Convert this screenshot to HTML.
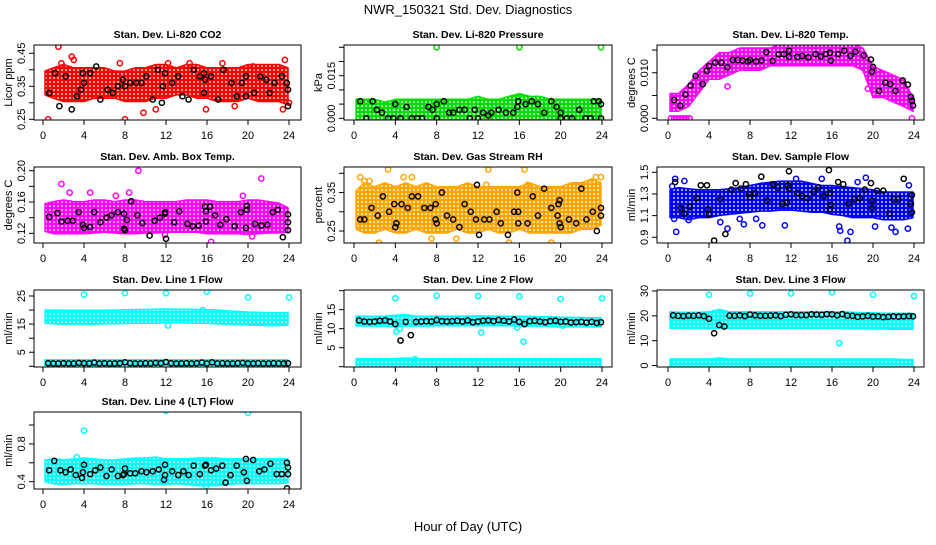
<!DOCTYPE html>
<html><head><meta charset="utf-8"><style>
body{margin:0;background:#fff}
svg text{font-family:"Liberation Sans",sans-serif}
</style></head><body>
<svg id="c" width="936" height="540" xmlns="http://www.w3.org/2000/svg">
<defs></defs>
<text x="468" y="14" font-size="13" text-anchor="middle">NWR_150321  Std. Dev. Diagnostics</text>
<text x="468" y="531" font-size="13" text-anchor="middle">Hour of Day (UTC)</text>
</svg>
<script>
const hourTicks=[0,4,8,12,16,20,24];
const bandHours=[0.2,1,2,3,4,5,6,7,8,9,10,11,12,13,14,15,16,17,18,19,20,21,22,23,23.9];
const rowHours=[0.5,1,1.5,2,2.5,3,3.5,4,4.5,5,5.5,6,6.5,7,7.5,8,8.5,9,9.5,10,10.5,11,11.5,12,12.5,13,13.5,14,14.5,15,15.5,16,16.5,17,17.5,18,18.5,19,19.5,20,20.5,21,21.5,22,22.5,23,23.5,23.9];

// Panel 1 CO2
const co2Lo=[0.33,0.32,0.31,0.31,0.31,0.32,0.32,0.32,0.31,0.31,0.31,0.32,0.32,0.33,0.33,0.32,0.32,0.31,0.31,0.31,0.32,0.31,0.31,0.31,0.30];
const co2Hi=[0.39,0.40,0.41,0.40,0.40,0.40,0.40,0.39,0.39,0.40,0.40,0.41,0.41,0.40,0.41,0.41,0.40,0.40,0.40,0.40,0.41,0.41,0.41,0.41,0.40];
const co2OutX=[1.5,0.5,1.8,2.8,3,7.5,8,9.8,11,12.2,14.3,15.9,17.5,18.7,23.6,23.4,24,20.5];
const co2OutY=[0.47,0.25,0.42,0.44,0.43,0.42,0.25,0.27,0.28,0.42,0.42,0.28,0.42,0.29,0.43,0.28,0.30,0.41];
const co2BlkX=[0.6,1.2,1.6,2.2,2.8,3.3,3.7,3.9,4,4.6,5.2,5.6,6.3,6.8,7.3,7.8,8,8.5,9.1,9.6,10.1,10.7,11.2,11.6,11.7,11.9,12.6,13.2,13.6,14.2,14.7,15.3,15.7,15.8,15.7,16.4,17.1,17.6,18.4,18.9,19.4,19.8,19.8,20.6,21.2,21.8,22.1,22.6,23.3,23.8,23.9,23.9];
const co2BlkY=[0.33,0.39,0.29,0.38,0.28,0.32,0.34,0.39,0.36,0.39,0.41,0.31,0.34,0.33,0.35,0.37,0.35,0.36,0.36,0.36,0.38,0.31,0.40,0.30,0.35,0.39,0.36,0.38,0.32,0.31,0.40,0.38,0.39,0.37,0.33,0.38,0.31,0.40,0.36,0.32,0.36,0.38,0.32,0.33,0.38,0.37,0.33,0.36,0.38,0.36,0.34,0.29];

// Panel 2 Pressure
const presLo=[0,0,0,0,0,0,0,0,0,0,0,0,0,0,0,0,0,0,0,0,0,0,0,0,0];
const presHi=[0.006,0.006,0.006,0.005,0.006,0.006,0.006,0.006,0.006,0.006,0.006,0.006,0.007,0.006,0.006,0.007,0.008,0.007,0.007,0.006,0.006,0.006,0.006,0.006,0.006];
const presOutX=[8,16,23.9];
const presOutY=[0.025,0.025,0.025];
const presBlkX=[0.6,1.2,1.8,2.2,2.7,3.3,3.8,4,4.5,5.1,5.6,6.1,6.6,7.2,7.6,8,8,8.7,9.2,9.6,10.2,10.7,11.2,11.7,12,12.5,13,13.3,14,14.7,15.4,15.8,15.9,16.6,17.2,17.8,18.4,19.1,19.6,20,20,20.6,21.1,21.8,22.4,22.9,23.2,23.7,23.9,23.9];
const presBlkY=[0.006,0,0.006,0.003,0.002,0,0,0.005,0,0.004,0,0,0,0.004,0.003,0,0.005,0.006,0.002,0.002,0.003,0.003,0,0.003,0,0.002,0.001,0.002,0.003,0.002,0.002,0.004,0.006,0.005,0.006,0.005,0.002,0.006,0.004,0.002,0,0,0,0.003,0,0,0.006,0.006,0.005,0];

// Panel 3 Li-820 Temp
const tmpLo=[0.002,0.002,0.003,0.006,0.009,0.009,0.010,0.011,0.011,0.011,0.012,0.012,0.012,0.012,0.012,0.012,0.012,0.012,0.012,0.011,0.005,0.005,0.004,0.003,0.002];
const tmpHi=[0.005,0.005,0.007,0.010,0.012,0.014,0.014,0.015,0.015,0.015,0.015,0.016,0.016,0.016,0.016,0.016,0.016,0.016,0.016,0.015,0.011,0.010,0.009,0.008,0.004];
const tmpOutX=[0.3,0.6,0.9,1.2,1.5,1.8,2.1,23.8,19.5,5.8];
const tmpOutY=[0,0,0,0,0,0,0,0,0.0065,0.007];
const tmpBlkX=[0.6,1.2,1.7,2.2,2.7,3.4,3.8,4,4.6,5.2,5.8,6.3,6.8,7.3,7.8,8,8.6,9.1,9.6,10.2,10.8,11.3,11.8,11.8,12.6,13.1,13.7,14.4,14.9,15.4,15.8,15.9,16.6,17.2,17.8,18.3,19.1,19.8,19.9,20,20.6,21.2,21.7,22.2,22.9,23.4,23.7,23.8,23.9];
const tmpBlkY=[0.004,0.0028,0.0052,0.0072,0.0093,0.0075,0.0104,0.0115,0.0122,0.0122,0.0112,0.0128,0.0128,0.0127,0.0125,0.0128,0.0125,0.0127,0.0145,0.0126,0.014,0.0141,0.0148,0.0135,0.0135,0.0137,0.0134,0.0141,0.0136,0.0141,0.0144,0.0127,0.0141,0.0148,0.0137,0.0146,0.0138,0.0129,0.0102,0.0113,0.006,0.0078,0.0075,0.006,0.0083,0.0074,0.0047,0.0039,0.0028];

// Panel 4 Amb box temp
const ambLo=[0.125,0.122,0.122,0.122,0.122,0.123,0.124,0.123,0.122,0.122,0.123,0.123,0.124,0.124,0.124,0.124,0.122,0.122,0.122,0.122,0.121,0.122,0.123,0.123,0.124];
const ambHi=[0.155,0.158,0.160,0.158,0.158,0.160,0.160,0.158,0.160,0.160,0.158,0.158,0.158,0.158,0.160,0.160,0.160,0.158,0.158,0.158,0.160,0.160,0.158,0.156,0.150];
const ambOutX=[1.8,2.6,4.6,9.3,21.3,7.1,8.4,16.4,20.4,11.9,19.5];
const ambOutY=[0.183,0.172,0.172,0.2,0.19,0.168,0.172,0.109,0.116,0.118,0.168];
const ambBlkX=[0.6,1.4,1.8,2.4,2.9,3.5,3.9,4,4.6,5,5.6,6.2,6.7,7.3,7.9,7.9,8,8.2,8.6,9.2,9.7,10.4,10.9,11.4,11.9,11.9,12,12.8,13.3,14.1,14.6,15.2,15.8,15.9,15.9,16.3,16.8,17.3,17.9,18.7,19.3,19.8,19.9,19.9,20.7,21.3,21.9,22.4,22.9,23.4,23.9,23.9,23.9];
const ambBlkY=[0.141,0.146,0.135,0.136,0.136,0.147,0.131,0.127,0.128,0.147,0.134,0.14,0.143,0.147,0.145,0.126,0.124,0.137,0.161,0.143,0.133,0.117,0.136,0.14,0.145,0.147,0.113,0.134,0.148,0.132,0.129,0.13,0.154,0.148,0.135,0.154,0.143,0.131,0.138,0.129,0.147,0.127,0.155,0.15,0.132,0.13,0.131,0.147,0.15,0.115,0.144,0.134,0.124];

// Panel 5 Gas stream RH
const rhLo=[0.26,0.25,0.25,0.26,0.25,0.25,0.26,0.25,0.25,0.25,0.26,0.25,0.25,0.26,0.25,0.25,0.26,0.25,0.25,0.25,0.25,0.25,0.26,0.26,0.27];
const rhHi=[0.35,0.37,0.36,0.37,0.36,0.37,0.36,0.37,0.36,0.36,0.36,0.37,0.36,0.36,0.36,0.36,0.36,0.37,0.36,0.36,0.36,0.37,0.37,0.38,0.37];
const rhOutX=[0.6,1,1.5,3.3,4.8,5.6,2.4,9.9,13,15,16.5,16.8,19.1,21,23.4,23.9,12.8,7.5];
const rhOutY=[0.39,0.38,0.38,0.41,0.39,0.39,0.22,0.23,0.41,0.22,0.41,0.37,0.22,0.21,0.39,0.39,0.37,0.23];
const rhBlkX=[0.6,1,1.7,2.3,2.8,3.4,3.9,4,4.1,4.6,5.2,5.6,6.2,6.8,7.4,7.9,7.9,8,8.5,9,9.6,10.2,10.7,11.3,11.8,11.9,12.1,12.6,13.1,13.8,14.2,14.9,15.5,15.8,15.9,15.9,16.8,17.3,17.8,18.4,19.1,19.7,19.8,19.9,19.9,20,20.8,21.5,22,22.5,23.1,23.5,23.9,23.9];
const rhBlkY=[0.28,0.28,0.31,0.29,0.34,0.30,0.32,0.26,0.27,0.32,0.31,0.34,0.34,0.31,0.31,0.32,0.28,0.27,0.35,0.29,0.28,0.26,0.32,0.30,0.28,0.37,0.24,0.28,0.28,0.30,0.27,0.24,0.30,0.35,0.30,0.27,0.27,0.34,0.29,0.36,0.31,0.29,0.32,0.33,0.27,0.26,0.28,0.27,0.36,0.28,0.30,0.25,0.31,0.29];

// Panel 6 Sample flow
const sfLo=[1.10,1.10,1.08,1.10,1.10,1.12,1.13,1.14,1.15,1.16,1.16,1.17,1.17,1.16,1.15,1.15,1.13,1.12,1.10,1.10,1.10,1.08,1.08,1.08,1.10];
const sfHi=[1.32,1.34,1.33,1.32,1.32,1.32,1.33,1.34,1.36,1.38,1.39,1.40,1.40,1.40,1.38,1.36,1.36,1.35,1.34,1.33,1.32,1.30,1.30,1.30,1.30];
const sfOutX=[0.4,0.6,0.7,0.8,1.6,2,5.1,5.8,7,7.4,8.6,9.2,11.4,12.5,15,16.7,16.8,17.5,17.8,18.5,19.3,20.2,21.8,22.2,23.4,23.5];
const sfOutY=[1.37,1.07,1.44,0.95,1.42,1.06,1.04,0.98,1.07,1.02,1.07,1.01,1.01,1.44,1.44,1.0,0.96,0.87,0.95,1.41,1.45,1.0,0.99,0.95,0.98,1.38];
const sfBlkX=[0.7,1.2,1.6,2.1,2.8,3.2,3.8,3.9,4.0,4.5,5.1,5.6,6.2,6.6,7.1,7.6,7.9,8,8.5,9.1,9.7,10.2,10.7,11.2,11.6,11.8,11.7,11.8,12.6,13.1,13.6,14.2,14.7,15.2,15.7,15.8,15.9,15.8,16.6,17.1,17.6,18.2,18.7,19.2,19.8,19.9,19.9,20.4,21,21.6,22,22.5,23,23.7,23.8,23.8];
const sfBlkY=[1.41,1.17,1.12,1.18,1.26,1.38,1.38,1.16,1.11,0.87,1.25,0.93,1.34,1.4,1.35,1.39,1.3,1.27,1.31,1.46,1.24,1.39,1.36,1.21,1.22,1.51,1.38,1.35,1.31,1.28,1.26,1.32,1.36,1.28,1.52,1.31,1.2,1.16,1.41,1.39,1.21,1.25,1.26,1.34,1.4,1.24,1.17,1.33,1.33,1.12,1.25,1.25,1.44,1.21,1.13,1.29];

// Panel 7 Line 1 flow
const l1Lo=[16,15.8,15.7,15.6,15.6,15.7,15.8,15.8,15.9,16,16,16,16.2,16.2,16.1,16,16,15.8,15.6,15.5,15.4,15.3,15.2,15.2,15.3];
const l1Hi=[19.3,19.3,19.2,19.2,19.2,19.2,19.2,19.3,19.4,19.5,19.5,19.6,19.7,19.6,19.6,19.5,19.4,19.3,19.0,18.8,18.6,18.5,18.4,18.3,18.3];
const l1LowLo=[0.4,0.4,0.4,0.4,0.4,0.4,0.4,0.4,0.4,0.4,0.4,0.4,0.4,0.4,0.4,0.4,0.4,0.4,0.4,0.4,0.4,0.4,0.4,0.4,0.4];
const l1LowHi=[1.6,1.6,1.6,1.6,1.6,1.6,1.6,1.6,1.6,1.6,1.6,1.6,1.6,1.6,1.6,1.6,1.6,1.6,1.6,1.6,1.6,1.6,1.6,1.6,1.6];
const l1OutX=[4,8,12,16,20,24,12.2,15.6];
const l1OutY=[25.5,26,26,26.5,24.5,24.5,14.5,20];
const l1BlkY=[1.1,1.0,1.0,1.1,1.0,1.0,1.2,1.1,1.0,1.3,1.0,1.1,1.0,1.0,1.1,1.4,1.1,1.0,1.0,1.1,1.0,1.2,1.1,1.5,1.1,1.0,1.0,1.1,1.0,1.1,1.3,1.0,1.4,1.0,1.1,1.0,1.0,1.1,1.2,1.0,1.0,1.1,1.0,1.0,1.1,1.0,1.0,1.1];

// Panel 8 Line 2 flow
const l2Lo=[11.2,11.2,11.2,11.2,11.0,11.2,11.2,11.2,11.3,11.3,11.3,11.3,11.3,11.3,11.3,11.3,11.2,11.2,11.2,11.1,11.0,11.0,11.0,11.0,11.0];
const l2Hi=[12.8,12.8,12.7,12.8,13.0,13.2,12.8,12.7,12.8,12.8,12.8,12.8,12.9,12.8,12.8,12.8,12.7,12.7,12.6,12.6,12.5,12.5,12.4,12.4,12.4];
const l2LowLo=[0.4,0.4,0.4,0.4,0.4,0.4,0.4,0.4,0.4,0.4,0.4,0.4,0.4,0.4,0.4,0.4,0.4,0.4,0.4,0.4,0.4,0.4,0.4,0.4,0.4];
const l2LowHi=[1.6,1.6,1.6,1.6,1.6,1.8,1.6,1.6,1.6,1.6,1.6,1.6,1.6,1.6,1.6,1.6,1.6,1.6,1.6,1.6,1.6,1.6,1.6,1.6,1.6];
const l2OutX=[4,8,12,16,20,24,4.1,4.4,12.3,15.8,16.4,5.9,20.2];
const l2OutY=[18,18.7,18.6,18.5,17.8,18,9.3,10,9,10.3,6.6,2,10.8];
const l2BlkY=[12.2,11.9,11.8,11.9,12.1,12.2,11.9,11.2,6.9,11.8,8.3,11.8,11.9,12.0,11.9,12.3,12.0,11.9,12.0,12.1,11.9,12.2,11.7,11.9,12.1,12.2,12.0,12.3,12.1,11.9,12.4,11.8,11.2,12.0,12.1,11.9,11.7,12.0,12.1,11.8,11.9,11.6,11.7,11.8,11.6,11.8,11.5,11.7];

// Panel 9 Line 3 flow
const l3Lo=[15.8,15.8,15.7,15.7,15.6,15.8,15.8,15.8,15.8,15.8,15.8,15.8,15.8,15.8,15.8,15.8,15.8,15.7,15.6,15.6,15.5,15.5,15.4,15.4,15.4];
const l3Hi=[20.8,20.6,20.6,20.6,20.8,21.8,20.8,20.8,20.8,20.8,20.8,20.8,20.8,20.8,20.8,20.8,20.8,20.8,20.6,20.4,20.4,20.2,20.2,20.2,20.2];
const l3LowLo=[0.3,0.3,0.3,0.3,0.3,0.3,0.3,0.3,0.3,0.3,0.3,0.3,0.3,0.3,0.3,0.3,0.3,0.3,0.3,0.3,0.3,0.3,0.3,0.2,0.2];
const l3LowHi=[1.8,1.8,1.8,1.8,1.8,2.2,1.8,1.8,1.8,1.8,1.8,1.8,1.8,1.8,1.8,1.8,1.8,1.8,1.8,1.8,1.8,1.8,1.8,1.6,1.6];
const l3OutX=[4,8,12,16,20,24,16.7];
const l3OutY=[28.5,29,29,29.5,28.5,28,9];
const l3BlkY=[20.2,20.0,19.9,20.1,20.0,20.2,19.9,18.8,13.0,16.3,15.7,20.1,20.0,20.2,19.9,20.5,20.2,20.0,20.0,20.1,20.2,19.9,20.4,20.6,20.3,20.3,20.3,20.6,20.5,20.4,20.7,20.6,20.2,20.7,20.1,20.0,19.6,19.8,20.0,19.7,19.8,19.5,19.6,19.8,19.7,19.8,19.9,19.8];

// Panel 10 Line 4 (LT) flow
const l4Lo=[0.42,0.40,0.39,0.40,0.40,0.40,0.39,0.39,0.39,0.40,0.40,0.39,0.39,0.40,0.39,0.38,0.38,0.38,0.39,0.40,0.40,0.40,0.40,0.40,0.41];
const l4Hi=[0.61,0.62,0.61,0.62,0.63,0.62,0.61,0.61,0.62,0.63,0.63,0.64,0.62,0.62,0.62,0.63,0.63,0.63,0.62,0.62,0.62,0.62,0.62,0.62,0.62];
const l4OutX=[4,12,20,3.3,15.9,17.5];
const l4OutY=[0.94,1.15,1.13,0.66,0.35,0.39];
const l4BlkX=[0.6,1.1,1.7,2.2,2.7,3.2,3.8,3.9,4,4.6,5.1,5.6,6.2,6.7,7.3,7.8,7.9,8,8.5,9,9.6,10.1,10.7,11.3,11.8,11.9,11.9,12.6,13.2,13.7,14.2,14.7,15.3,15.8,15.9,16.4,16.9,17.5,17.8,18.3,18.9,19.6,19.8,19.9,20.5,21.1,21.6,22.2,22.8,23.3,23.8,23.9,23.9,23.8];
const l4BlkY=[0.52,0.62,0.52,0.5,0.53,0.47,0.44,0.5,0.58,0.48,0.52,0.55,0.46,0.53,0.46,0.47,0.48,0.54,0.49,0.49,0.51,0.5,0.51,0.53,0.42,0.47,0.58,0.51,0.47,0.51,0.47,0.57,0.48,0.57,0.58,0.52,0.54,0.57,0.39,0.47,0.57,0.5,0.64,0.41,0.63,0.51,0.53,0.59,0.48,0.48,0.6,0.55,0.48,0.33];

const svg=document.getElementById('c');
const NS='http://www.w3.org/2000/svg';
const defs=svg.querySelector('defs');
const colX=[[34,301,43,289],[344,612,354,602],[657,924,668,914]];
const rowY=[[45,120],[167,243],[290,367],[412,489]];
function mk(tag,attrs,parent){const e=document.createElementNS(NS,tag);for(const k in attrs)e.setAttribute(k,attrs[k]);(parent||svg).appendChild(e);return e;}
const pats={};
function pat(color){
  if(pats[color])return pats[color];
  const id='p'+Object.keys(pats).length;
  const p=mk('pattern',{id:id,width:4,height:4,patternUnits:'userSpaceOnUse'},defs);
  mk('rect',{width:4,height:4,fill:color},p);
  mk('circle',{cx:2,cy:2,r:1.0,fill:'#fff','fill-opacity':0.85},p);
  pats[color]='url(#'+id+')';return pats[color];
}
const panels=[
 {c:0,r:0,t:'Stan. Dev. Li-820 CO2',yl:'Licor ppm',ya:[0.45,53.3,0.25,119.3],tk:[0.25,0.30,0.35,0.40,0.45],lb:['0.25','','0.35','','0.45'],col:'#ff0000',bands:[[co2Lo,co2Hi]],ox:co2OutX,oy:co2OutY,bx:co2BlkX,by:co2BlkY},
 {c:1,r:0,t:'Stan. Dev. Li-820 Pressure',yl:'kPa',ya:[0.025,47.3,0,118.3],tk:[0,0.005,0.010,0.015,0.020,0.025],lb:['0.000','','','0.015','',''],col:'#00dd00',bands:[[presLo,presHi]],ox:presOutX,oy:presOutY,bx:presBlkX,by:presBlkY},
 {c:2,r:0,t:'Stan. Dev. Li-820 Temp.',yl:'degrees C',ya:[0.015,50,0,118.3],tk:[0,0.005,0.010,0.015],lb:['0.000','','0.010',''],col:'#ff00ff',bands:[[tmpLo,tmpHi]],ox:tmpOutX,oy:tmpOutY,bx:tmpBlkX,by:tmpBlkY},
 {c:0,r:1,t:'Stan. Dev. Amb. Box Temp.',yl:'degrees C',ya:[0.20,170.7,0.12,233.3],tk:[0.12,0.14,0.16,0.18,0.20],lb:['0.12','','0.16','','0.20'],col:'#ff00ff',bands:[[ambLo,ambHi]],ox:ambOutX,oy:ambOutY,bx:ambBlkX,by:ambBlkY},
 {c:1,r:1,t:'Stan. Dev. Gas Stream RH',yl:'percent',ya:[0.40,173.3,0.25,231],tk:[0.25,0.30,0.35,0.40],lb:['0.25','','0.35',''],col:'#ffa500',bands:[[rhLo,rhHi]],ox:rhOutX,oy:rhOutY,bx:rhBlkX,by:rhBlkY},
 {c:2,r:1,t:'Stan. Dev. Sample Flow',yl:'ml/min',ya:[1.5,172.3,0.9,237.3],tk:[0.9,1.1,1.3,1.5],lb:['0.9','1.1','1.3','1.5'],col:'#0000ff',bands:[[sfLo,sfHi]],ox:sfOutX,oy:sfOutY,bx:sfBlkX,by:sfBlkY},
 {c:0,r:2,t:'Stan. Dev. Line 1 Flow',yl:'ml/min',ya:[25,296,0,366.3],tk:[0,5,10,15,20,25],lb:['','5','','15','','25'],col:'#00ffff',bands:[[l1Lo,l1Hi],[l1LowLo,l1LowHi]],ox:l1OutX,oy:l1OutY,bx:rowHours,by:l1BlkY},
 {c:1,r:2,t:'Stan. Dev. Line 2 Flow',yl:'ml/min',ya:[20,290.7,0,366.7],tk:[0,5,10,15,20],lb:['','5','10','15',''],col:'#00ffff',bands:[[l2Lo,l2Hi],[l2LowLo,l2LowHi]],ox:l2OutX,oy:l2OutY,bx:rowHours,by:l2BlkY},
 {c:2,r:2,t:'Stan. Dev. Line 3 Flow',yl:'ml/min',ya:[30,291,0,365.5],tk:[0,10,20,30],lb:['0','10','20','30'],col:'#00ffff',bands:[[l3Lo,l3Hi],[l3LowLo,l3LowHi]],ox:l3OutX,oy:l3OutY,bx:rowHours,by:l3BlkY},
 {c:0,r:3,t:'Stan. Dev. Line 4 (LT) Flow',yl:'ml/min',ya:[1.0,425,0.4,481.7],tk:[0.4,0.6,0.8,1.0],lb:['0.4','','0.8',''],col:'#00ffff',bands:[[l4Lo,l4Hi]],ox:l4OutX,oy:l4OutY,bx:l4BlkX,by:l4BlkY}
];
panels.forEach((p,i)=>{
  const [L,R,x0,x24]=colX[p.c];const [T,B]=rowY[p.r];
  const X=h=>x0+h*(x24-x0)/24;
  const Y=v=>p.ya[1]+(v-p.ya[0])*(p.ya[3]-p.ya[1])/(p.ya[2]-p.ya[0]);
  const g=mk('g',{});
  
  
  const cp=mk('clipPath',{id:'cl'+i},defs);mk('rect',{x:L,y:T,width:R-L,height:B-T},cp);
  const pg=mk('g',{'clip-path':'url(#cl'+i+')'},g);
  p.bands.forEach(([lo,hi])=>{
    let d='M'+bandHours.map((h,k)=>X(h).toFixed(1)+','+(Y(hi[k])-2).toFixed(1)).join('L');
    for(let k=bandHours.length-1;k>=0;k--)d+='L'+X(bandHours[k]).toFixed(1)+','+(Y(lo[k])+2).toFixed(1);
    const b=mk('path',{d:d+'Z',fill:pat(p.col),stroke:p.col,'stroke-width':1.5,'stroke-linejoin':'round'},pg);
    
    
  });
  p.ox.forEach((h,k)=>{
    const c=mk('circle',{cx:X(h),cy:Y(p.oy[k]),r:2.6,fill:'none',stroke:p.col,'stroke-width':1.5},pg);
    
    
  });
  p.bx.forEach((h,k)=>{
    const c=mk('circle',{cx:X(h),cy:Y(p.by[k]),r:2.6,fill:'none',stroke:'#000','stroke-width':1.5},pg);
    
    
  });
  const box=mk('rect',{x:L,y:T,width:R-L,height:B-T,fill:'none',stroke:'#000','stroke-width':1},g);
  
  
  hourTicks.forEach(h=>{
    mk('line',{x1:X(h),x2:X(h),y1:B,y2:B+5,stroke:'#000'},g);
    const t=mk('text',{x:X(h),y:B+19,'font-size':11,'text-anchor':'middle'},g);t.textContent=h;
    
    
  });
  p.tk.forEach((v,k)=>{
    mk('line',{x1:L-5,x2:L,y1:Y(v),y2:Y(v),stroke:'#000'},g);
    if(p.lb[k]){const t=mk('text',{x:L-9,y:Y(v),'font-size':11,'text-anchor':'middle',transform:'rotate(-90 '+(L-9)+' '+Y(v)+')'},g);t.textContent=p.lb[k];
    
    }
  });
  const tt=mk('text',{x:(L+R)/2,y:T-7,'font-size':10.5,'font-weight':'bold','text-anchor':'middle'},g);tt.textContent=p.t;
  
  
  const yy=(T+B)/2;const yt=mk('text',{x:L-22,y:yy,'font-size':11,'text-anchor':'middle',transform:'rotate(-90 '+(L-22)+' '+yy+')'},g);yt.textContent=p.yl;
  
  
});
</script>
</body></html>
